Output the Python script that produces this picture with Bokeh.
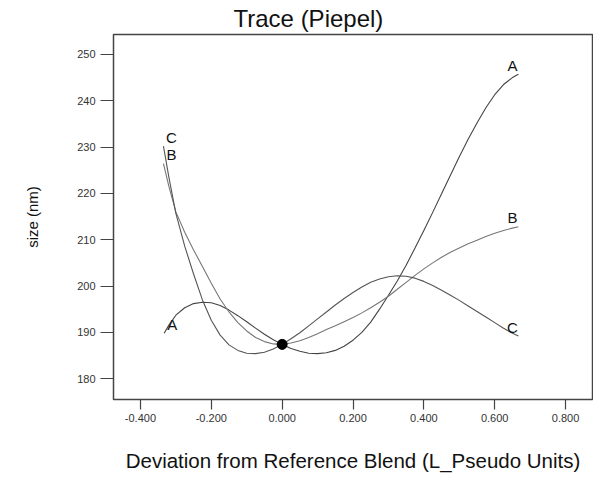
from bokeh.plotting import figure
from bokeh.models import ColumnDataSource, FixedTicker, NumeralTickFormatter, Range1d
from bokeh.core.properties import value
from bokeh.embed import file_html
from bokeh.resources import INLINE

# Trace data (deviation from reference blend -> predicted size, nm)
x_a = [-0.333, -0.32, -0.30, -0.275, -0.25, -0.225, -0.20, -0.175, -0.15, -0.125, -0.10, -0.075,
       -0.05, -0.025, 0.0, 0.025, 0.05, 0.075, 0.10, 0.125, 0.15, 0.175, 0.20, 0.225, 0.25, 0.275,
       0.30, 0.325, 0.35, 0.375, 0.40, 0.425, 0.45, 0.475, 0.50, 0.525, 0.55, 0.575, 0.60, 0.625,
       0.65, 0.667]
y_a = [189.8, 191.5, 193.7, 195.3, 196.2, 196.5, 196.4, 195.8, 194.8, 193.6, 192.3, 190.9,
       189.6, 188.4, 187.4, 186.5, 185.9, 185.5, 185.4, 185.6, 186.1, 187.0, 188.3, 190.0, 192.2, 195.0,
       198.0, 201.1, 204.5, 208.2, 212.0, 215.9, 219.9, 223.9, 227.9, 231.7, 235.2, 238.5, 241.3, 243.5,
       245.0, 245.7]

x_b = [-0.335, -0.32, -0.30, -0.275, -0.25, -0.225, -0.20, -0.175, -0.15, -0.125, -0.10, -0.075,
       -0.05, -0.025, 0.0, 0.025, 0.05, 0.075, 0.10, 0.125, 0.15, 0.175, 0.20, 0.225, 0.25, 0.275,
       0.30, 0.325, 0.35, 0.375, 0.40, 0.425, 0.45, 0.475, 0.50, 0.525, 0.55, 0.575, 0.60, 0.625,
       0.65, 0.667]
y_b = [226.4, 221.6, 216.0, 211.6, 207.8, 204.2, 200.6, 197.2, 194.4, 192.1, 190.3, 188.9,
       188.0, 187.5, 187.4, 187.7, 188.2, 188.9, 189.7, 190.6, 191.4, 192.3, 193.2, 194.2, 195.3, 196.5,
       197.8, 199.3, 200.8, 202.3, 203.7, 205.0, 206.2, 207.3, 208.2, 209.1, 209.9, 210.7, 211.4, 212.0,
       212.5, 212.8]

x_c = [-0.335, -0.32, -0.30, -0.275, -0.25, -0.225, -0.20, -0.175, -0.15, -0.125, -0.10, -0.075,
       -0.05, -0.025, 0.0, 0.025, 0.05, 0.075, 0.10, 0.125, 0.15, 0.175, 0.20, 0.225, 0.25, 0.275,
       0.30, 0.325, 0.35, 0.375, 0.40, 0.425, 0.45, 0.475, 0.50, 0.525, 0.55, 0.575, 0.60, 0.625,
       0.65, 0.667]
y_c = [230.2, 223.6, 215.7, 208.6, 202.6, 197.0, 192.6, 189.4, 187.3, 186.1, 185.5, 185.4,
       185.7, 186.4, 187.4, 188.6, 189.9, 191.4, 192.9, 194.4, 195.9, 197.3, 198.6, 199.8, 200.8, 201.5,
       202.0, 202.2, 202.1, 201.7, 201.0, 200.1, 199.1, 198.0, 196.9, 195.7, 194.5, 193.3, 192.1, 190.9,
       189.8, 189.2]

series_names = ["A", "B", "C"]
ref_x = [0.0]
ref_y = [187.4]

x_ticks = [-0.4, -0.2, 0.0, 0.2, 0.4, 0.6, 0.8]
y_ticks = [180, 190, 200, 210, 220, 230, 240, 250]

FONT = "Liberation Sans"

p = figure(width=593, height=474, output_backend="svg", toolbar_location=None,
           x_range=Range1d(-0.476, 0.876), y_range=Range1d(175.5, 254.3),
           min_border_left=113, min_border_right=1, min_border_top=28, min_border_bottom=75)

p.title.text = "Trace (Piepel)"
p.title.text_font = FONT
p.title.text_font_size = "24px"
p.title.text_font_style = "normal"
p.title.text_color = "#111111"
p.title.align = "left"
p.title.offset = 120
p.title.standoff = 5

p.xgrid.visible = False
p.ygrid.visible = False
p.outline_line_color = "#444444"
p.outline_line_width = 1.5
p.background_fill_color = "white"
p.border_fill_color = "white"

for ax in (p.xaxis[0], p.yaxis[0]):
    ax.axis_line_color = None
    ax.major_tick_in = 0
    ax.minor_tick_line_color = None
    ax.major_tick_line_color = "#444444"
    ax.major_tick_line_width = 1.2
    ax.major_label_text_font = FONT
    ax.major_label_text_font_size = "11px"
    ax.major_label_text_color = "#333333"
    ax.axis_label_text_font = FONT
    ax.axis_label_text_font_style = "normal"
    ax.axis_label_text_color = "#111111"

p.xaxis.ticker = FixedTicker(ticks=x_ticks)
p.xaxis.formatter = NumeralTickFormatter(format="0.000")
p.xaxis.major_tick_out = 10
p.xaxis.major_label_standoff = 4
p.xaxis.axis_label = "Deviation from Reference Blend (L_Pseudo Units)"
p.xaxis.axis_label_text_font_size = "20.5px"
p.xaxis.axis_label_standoff = 24

p.yaxis.ticker = FixedTicker(ticks=y_ticks)
p.yaxis.major_tick_out = 13
p.yaxis.major_label_standoff = 5
p.yaxis.axis_label = "size (nm)"
p.yaxis.axis_label_text_font_size = "15px"
p.yaxis.axis_label_standoff = 33

line_colors = ["#444444", "#777777", "#555555"]
xs = [x_a, x_b, x_c]
ys = [y_a, y_b, y_c]
for xv, yv, col in zip(xs, ys, line_colors):
    p.line(xv, yv, line_color=col, line_width=1.1)

# end labels
left_src = ColumnDataSource(dict(x=[v[0] for v in xs], y=[v[0] for v in ys], t=series_names))
right_src = ColumnDataSource(dict(x=[v[-1] for v in xs], y=[v[-1] for v in ys], t=series_names))
p.text(x="x", y="y", text="t", source=left_src, x_offset=8, y_offset=-9,
       text_align="center", text_baseline="middle", text_font=value(FONT),
       text_font_size="15px", text_color="#111111")
p.text(x="x", y="y", text="t", source=right_src, x_offset=-6, y_offset=-9,
       text_align="center", text_baseline="middle", text_font=value(FONT),
       text_font_size="15px", text_color="#111111")

p.scatter(ref_x, ref_y, size=10, color="black")

open("out.html", "w").write(file_html(p, INLINE))
